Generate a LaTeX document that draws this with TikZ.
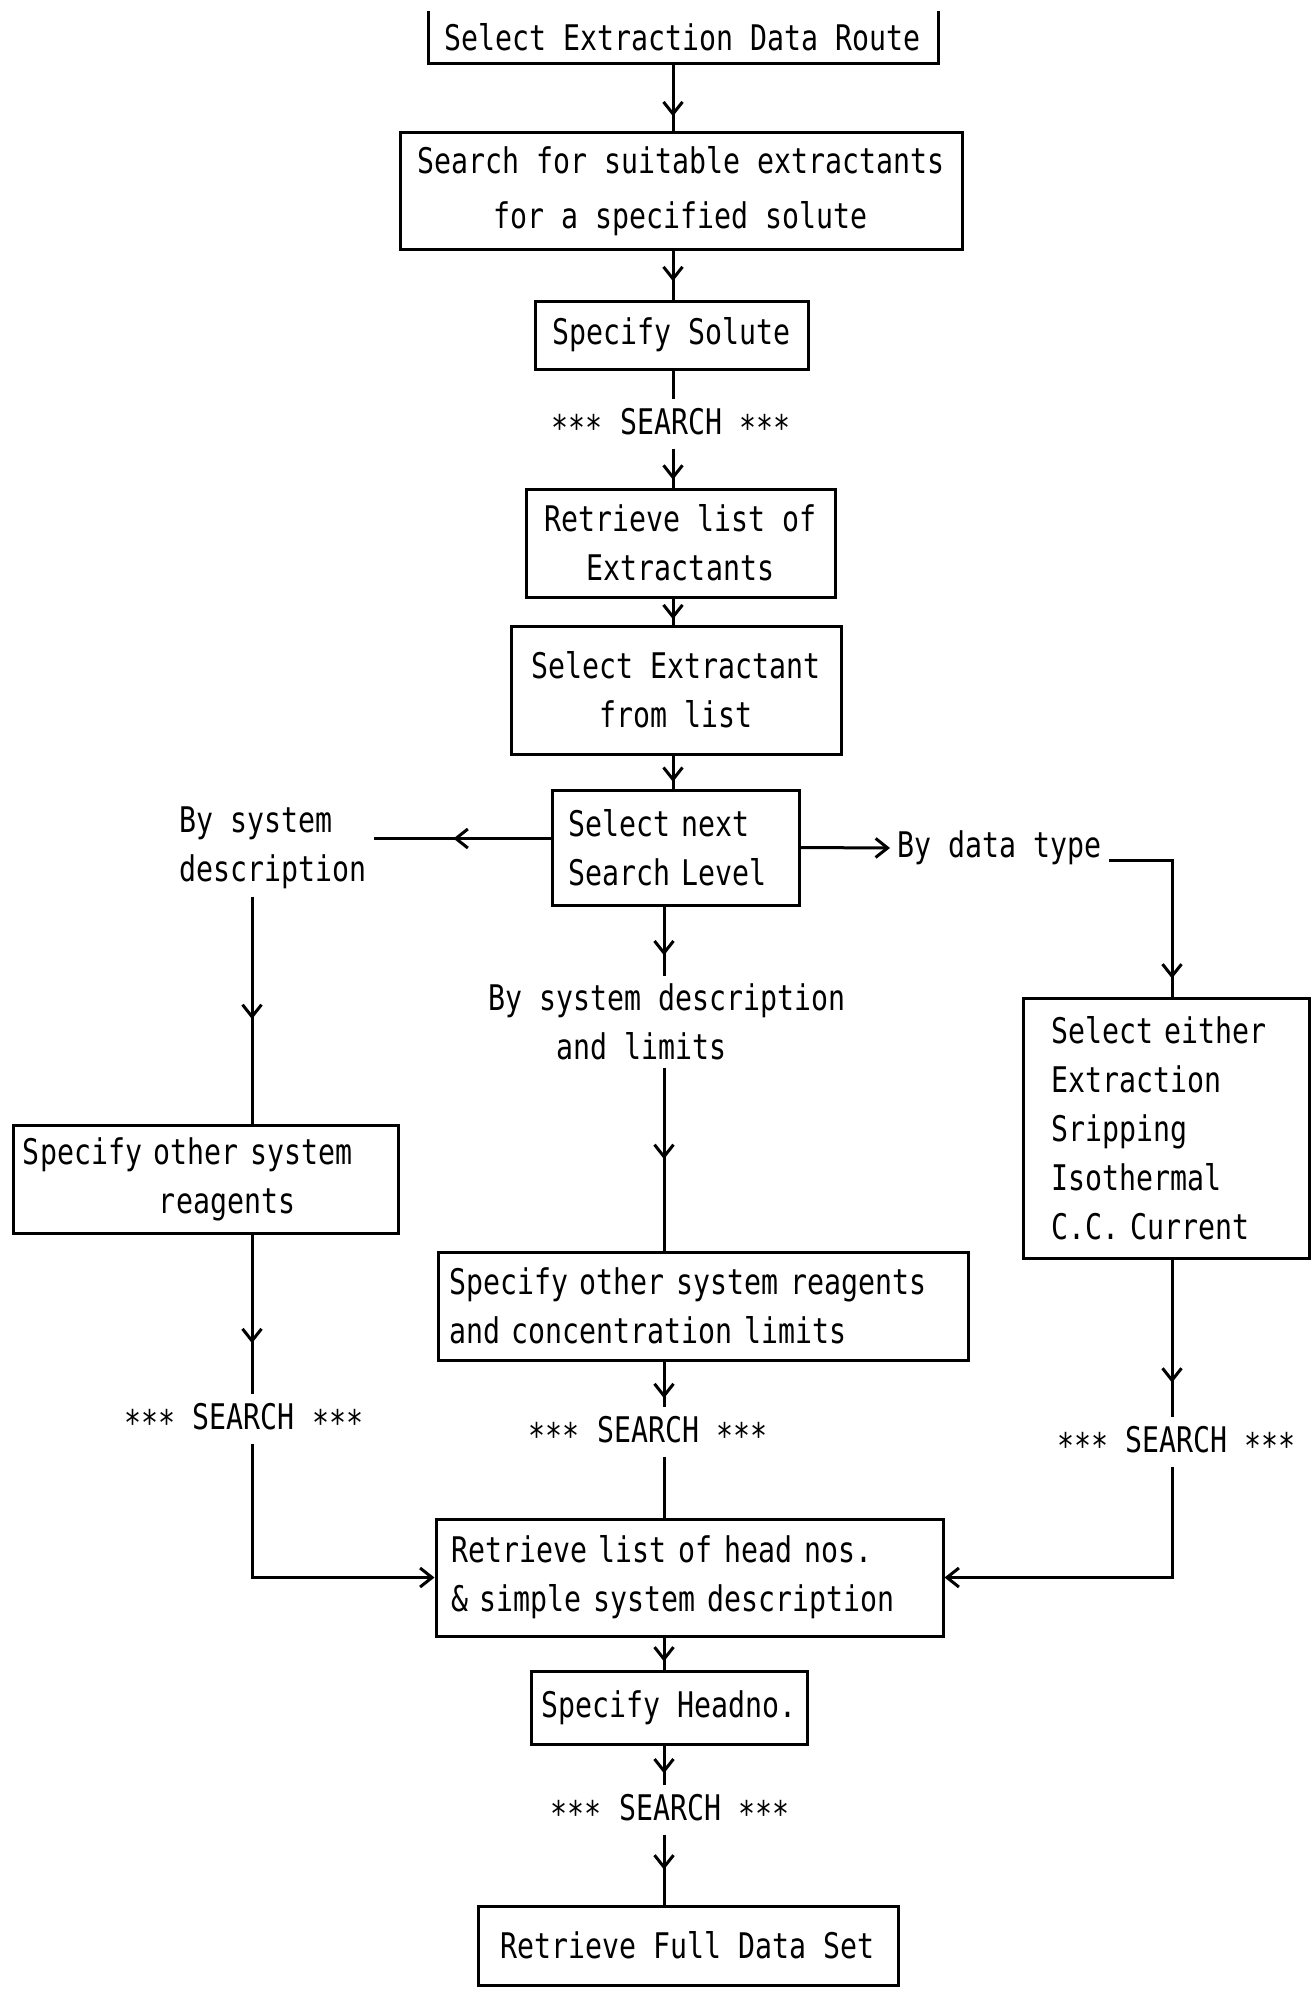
\documentclass[tikz,border=0pt]{standalone}
\usepackage{fontspec}
\newfontfamily\plotfont[FakeStretch=0.8]{DejaVu Sans Mono}
\usetikzlibrary{arrows.meta,decorations.markings,calc}

\newcommand\srchstars{\raisebox{-6pt}{***}}

\tikzset{every picture/.style={line width=3pt}}
\tikzset{
  box/.style={draw, inner sep=0pt, align=center, font=\plotfont\fontsize{35.3}{49}\selectfont},
  lbl/.style={inner sep=6pt, align=left, font=\plotfont\fontsize{35.3}{49}\selectfont},
  srch/.style={inner sep=7pt, font=\plotfont\fontsize{35.3}{49}\selectfont},
  midarrow/.style={postaction={decorate}, decoration={markings, mark=at position #1 with {\arrow{>}}}},
  midarrow/.default=0.75,
  >={Straight Barb[length=12pt,width=19pt]}
}

\begin{document}
\begin{tikzpicture}[x=1pt,y=1pt,yscale=-1,xscale=1]
\useasboundingbox (0,0) rectangle (1314,1993);
\clip (0,12) rectangle (1314,1993);

%Columns
\coordinate (tcol) at (673,0);
\coordinate (mcol) at (664,0);
\coordinate (lcol) at (252,0);
\coordinate (rcol) at (1172,0);

%Rectangles, main route
\node[box, minimum width=510pt, minimum height=54pt] (route) at (683,37) {Select Extraction Data Route};
\node[box, minimum width=562pt, minimum height=117pt] (suit) at (681,191.5) {Search for suitable extractants\\[6pt]for a specified solute};
\node[box, minimum width=273pt, minimum height=68pt] (solute) at (671.5,335) {Specify Solute};
% Text Node
\node[srch] (sa) at (671,424) {\srchstars{} SEARCH \srchstars};
\node[box, minimum width=309pt, minimum height=108pt] (extl) at (680.5,543) {Retrieve list of\\Extractants};
\node[box, minimum width=330pt, minimum height=128pt] (exsel) at (676,690) {Select Extractant\\from list};
\node[box, align=left, text width=215pt, inner xsep=16pt, minimum height=115pt] (level) at (675.5,847.5) {Select next\\Search Level};

% Text Node
\node[lbl, anchor=west] (bysys) at (172,848) {By system\\description};
% Text Node
\node[lbl, anchor=west] (bylim) at (481,1022) {By system description\\\hspace*{68pt}and limits};
% Text Node
\node[lbl, anchor=west] (bytype) at (890,848) {By data type};

%Rectangles, branches
\node[box, align=left, text width=365pt, inner xsep=10pt, minimum height=108pt] (oreag) at (205.5,1179) {Specify other system\\\hspace*{136pt}reagents};
\node[box, align=left, text width=508pt, inner xsep=11pt, minimum height=108pt] (conc) at (703,1306) {Specify other system reagents\\and concentration limits};
\node[box, align=left, text width=230pt, inner xsep=28pt, minimum height=260pt] (dtype) at (1166,1128) {Select either\\Extraction\\Sripping\\Isothermal\\C.C. Current};

% Text Node
\node[srch] (sl) at (244,1419) {\srchstars{} SEARCH \srchstars};
\node[srch] (sm) at (648,1432) {\srchstars{} SEARCH \srchstars};
\node[srch] (sr) at (1176,1442) {\srchstars{} SEARCH \srchstars};

%Rectangles, end of route
\node[box, align=left, text width=477pt, inner xsep=15pt, minimum height=117pt] (heads) at (689.5,1577.5) {Retrieve list of head nos.\\\& simple system description};
\node[box, minimum width=276pt, minimum height=73pt] (headno) at (669,1707.5) {Specify Headno.};
% Text Node
\node[srch] (sb) at (670,1810) {\srchstars{} SEARCH \srchstars};
\node[box, minimum width=420pt, minimum height=79pt] (full) at (688,1945.5) {Retrieve Full Data Set};

%Lines, main route
\draw[midarrow=0.77] (route.south -| tcol) -- (suit.north -| tcol);
\draw[midarrow=0.62] (suit.south -| tcol) -- (solute.north -| tcol);
\draw (solute.south -| tcol) -- (sa.north -| tcol);
\draw[midarrow=0.8] (sa.south -| tcol) -- (extl.north -| tcol);
\draw[midarrow=0.8] (extl.south -| tcol) -- (exsel.north -| tcol);
\draw[midarrow=0.8] (exsel.south -| tcol) -- (level.north -| tcol);

%Lines, left branch
\draw[midarrow=0.55] ($(level.west)+(0,-9)$) -- ($(level.west -| bysys.east)+(0,-9)$);
\draw[midarrow=0.54] (bysys.south -| lcol) -- (oreag.north -| lcol);
\draw[midarrow=0.68] (oreag.south -| lcol) -- (sl.north -| lcol);
\draw[->] (sl.south -| lcol) |- (heads.west);

%Lines, middle branch
\draw[midarrow=0.7] (level.south -| mcol) -- (bylim.north -| mcol);
\draw[midarrow=0.5] (bylim.south -| mcol) -- (conc.north -| mcol);
\draw[midarrow=0.8] (conc.south -| mcol) -- (sm.north -| mcol);
\draw (sm.south -| mcol) -- (heads.north -| mcol);

%Lines, right branch
\draw[->] (level.east) -- (bytype.west);
\draw[midarrow=0.91] ($(bytype.east)+(0,12)$) -| (dtype.north -| rcol);
\draw[midarrow=0.78] (dtype.south -| rcol) -- (sr.north -| rcol);
\draw[->] (sr.south -| rcol) |- (heads.east);

%Lines, end of route
\draw[midarrow=0.75] (heads.south -| mcol) -- (headno.north -| mcol);
\draw[midarrow=0.7] (headno.south -| mcol) -- (sb.north -| mcol);
\draw[midarrow=0.5] (sb.south -| mcol) -- (full.north -| mcol);

\end{tikzpicture}
\end{document}
